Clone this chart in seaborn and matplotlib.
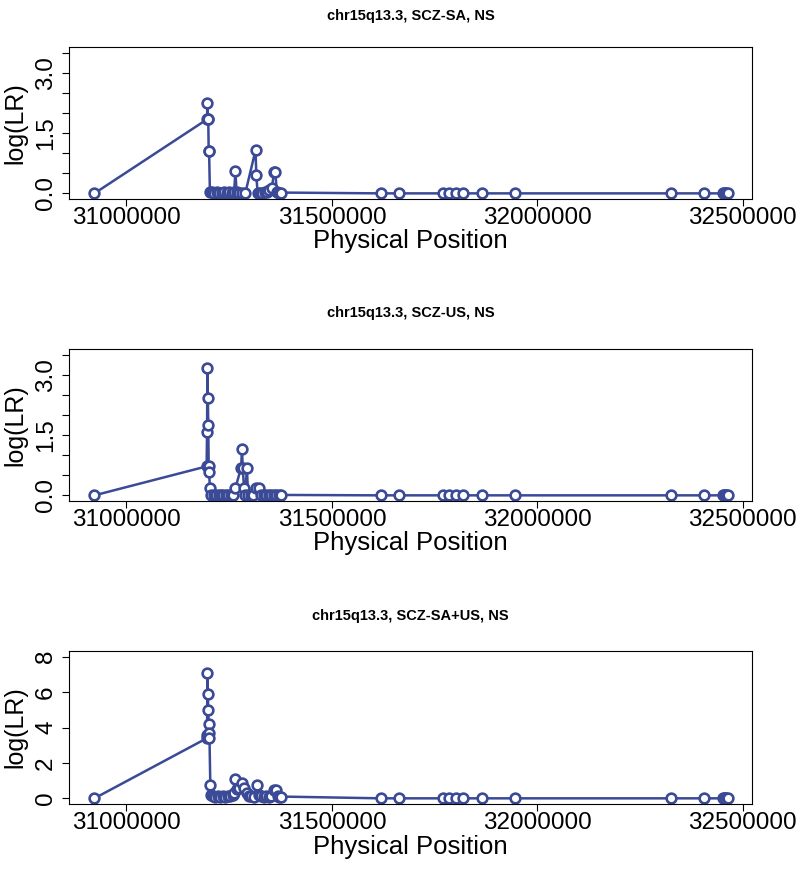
import matplotlib
matplotlib.use("Agg")
import matplotlib.pyplot as plt
import seaborn as sns
import pandas as pd
import numpy as np

# SNP positions near the peak, one list per analysis
pos_sa = [30922000, 31196000, 31197000, 31198000, 31199000, 31200000, 31201000, 31203000,
          31208000, 31214000, 31220000, 31226000, 31232000, 31238000, 31244000, 31250000,
          31256000, 31262000, 31265000, 31268000, 31274000, 31280000, 31289000, 31314000,
          31316000, 31319000, 31324000, 31330000, 31336000, 31342000, 31348000, 31354000,
          31359000, 31362000, 31366000, 31371000, 31376000]
lr_sa = [0.00, 1.84, 2.25, 1.84, 1.84, 1.05, 1.05, 0.04,
         0.03, 0.02, 0.03, 0.02, 0.02, 0.03, 0.02, 0.03,
         0.02, 0.03, 0.55, 0.03, 0.02, 0.02, 0.00, 1.07,
         0.45, 0.02, 0.01, 0.02, 0.03, 0.03, 0.08, 0.13,
         0.54, 0.54, 0.03, 0.02, 0.02]

pos_us = [30922000, 31195000, 31196000, 31197000, 31198000, 31199000, 31200000, 31201000,
          31203000, 31206000, 31212000, 31218000, 31224000, 31230000, 31236000, 31242000,
          31248000, 31254000, 31260000, 31265000, 31279000, 31281000, 31283000, 31286000,
          31289000, 31293000, 31296000, 31302000, 31308000, 31314000, 31322000, 31328000,
          31334000, 31340000, 31346000, 31352000, 31358000, 31364000, 31370000, 31376000]
lr_us = [0.00, 0.72, 1.57, 3.16, 2.42, 1.75, 0.72, 0.58,
         0.18, 0.02, 0.01, 0.02, 0.01, 0.02, 0.01, 0.02,
         0.01, 0.02, 0.02, 0.18, 0.69, 1.15, 0.69, 0.18,
         0.00, 0.69, 0.00, 0.02, 0.02, 0.18, 0.18, 0.02,
         0.01, 0.02, 0.01, 0.02, 0.01, 0.02, 0.01, 0.01]

pos_all = [30922000, 31195000, 31196000, 31197000, 31198000, 31199000, 31200000, 31201000,
           31202000, 31204000, 31206000, 31210000, 31216000, 31222000, 31228000, 31234000,
           31240000, 31246000, 31252000, 31258000, 31262000, 31265000, 31268000, 31274000,
           31281000, 31286000, 31293000, 31298000, 31304000, 31310000, 31318000, 31322000,
           31328000, 31334000, 31340000, 31346000, 31352000, 31359000, 31363000, 31368000,
           31372000, 31376000]
lr_all = [0.00, 3.39, 3.56, 7.10, 5.89, 4.99, 4.20, 3.71,
          3.39, 0.75, 0.19, 0.12, 0.10, 0.12, 0.10, 0.12,
          0.10, 0.12, 0.15, 0.20, 0.32, 1.07, 0.50, 0.60,
          0.88, 0.56, 0.30, 0.15, 0.12, 0.10, 0.75, 0.20,
          0.12, 0.10, 0.12, 0.10, 0.15, 0.47, 0.47, 0.12,
          0.10, 0.10]

# distal SNPs, flat in all three analyses
pos_far = [31619000, 31662000, 31771000, 31784000, 31801000, 31820000, 31864000, 31946000,
           32324000, 32405000, 32451000, 32454000, 32457000, 32460000, 32463000]
lr_far = [0.0, 0.0, 0.0, 0.0, 0.0, 0.0, 0.0, 0.0,
          0.0, 0.0, 0.0, 0.0, 0.0, 0.0, 0.0]

titles = ["chr15q13.3, SCZ-SA, NS", "chr15q13.3, SCZ-US, NS", "chr15q13.3, SCZ-SA+US, NS"]
x_ticks = [31000000, 31500000, 32000000, 32500000]
y_ticks_small = [0.0, 0.5, 1.0, 1.5, 2.0, 2.5, 3.0, 3.5]
y_labels_small = ["0.0", "", "", "1.5", "", "", "3.0", ""]
y_ticks_big = [0, 2, 4, 6, 8]
y_labels_big = ["0", "2", "4", "6", "8"]

sns.set_style("ticks")
plt.rcParams['font.family'] = ['Liberation Sans', 'DejaVu Sans']

line_col = '#3a4a96'

fig = plt.figure(figsize=(8.02, 8.69), dpi=100)
boxes = [[0.086, 0.771, 0.852, 0.175],
         [0.086, 0.4235, 0.852, 0.175],
         [0.086, 0.0748, 0.852, 0.176]]
title_pads = [19.5, 23, 22.5]

panels = [(pos_sa, lr_sa, y_ticks_small, y_labels_small, (-0.14, 3.64)),
          (pos_us, lr_us, y_ticks_small, y_labels_small, (-0.14, 3.64)),
          (pos_all, lr_all, y_ticks_big, y_labels_big, (-0.32, 8.32))]

for i, (pos, lr, yt, yl, ylim) in enumerate(panels):
    ax = fig.add_axes(boxes[i])
    df = pd.DataFrame({'pos': pos + pos_far, 'lr': lr + lr_far})
    sns.lineplot(data=df, x='pos', y='lr', ax=ax, estimator=None, sort=False,
                 color=line_col, linewidth=1.8, marker='o', markersize=7,
                 markerfacecolor='white', markeredgecolor=line_col, markeredgewidth=1.9)
    ax.set_xlim(30860000, 32523000)
    ax.set_ylim(*ylim)
    ax.set_xticks(x_ticks)
    ax.set_xticklabels([str(t) for t in x_ticks])
    ax.set_yticks(yt)
    ax.set_yticklabels(yl)
    for lab in ax.get_yticklabels():
        lab.set_rotation(90)
        lab.set_va('center')
    ax.tick_params(axis='both', direction='out', length=5, width=0.8,
                   labelsize=17.5, color='black', labelcolor='black')
    ax.tick_params(axis='x', pad=0.5)
    ax.tick_params(axis='y', pad=3.5)
    for sp in ax.spines.values():
        sp.set_visible(True)
        sp.set_color('black')
        sp.set_linewidth(0.8)
    ax.set_xlabel("Physical Position", fontsize=18.5, va='top', color='black')
    ax.set_ylabel("log(LR)", fontsize=18, color='black')
    ax.xaxis.set_label_coords(0.5, -0.2)
    ax.yaxis.set_label_coords(-0.061, 0.5)
    ax.set_title(titles[i], fontsize=10.5, fontweight='bold', pad=title_pads[i], color='black')

fig.savefig("out.png", dpi=100)
